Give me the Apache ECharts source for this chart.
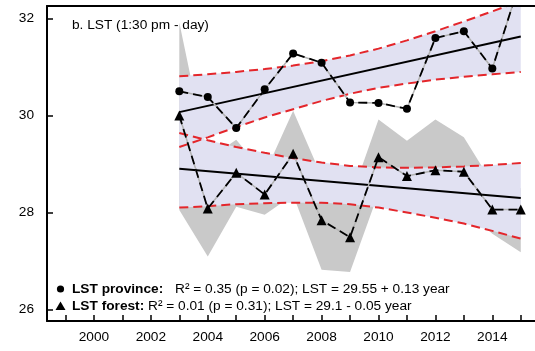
<!DOCTYPE html>
<html>
<head>
<meta charset="utf-8">
<script src="https://cdn.jsdelivr.net/npm/echarts@6.0.0/dist/echarts.min.js"></script>
<style>
  html, body { margin: 0; padding: 0; background: #fff; }
  #chart { width: 535px; height: 351px; }
</style>
</head>
<body>
<div id="chart"></div>
<script>
// Years of observation
const years = [2003, 2004, 2005, 2006, 2007, 2008, 2009, 2010, 2011, 2012, 2013, 2014, 2015];

// Daytime LST (°C) at 1:30 pm
const lstProvince = [30.50, 30.38, 29.74, 30.54, 31.28, 31.09, 30.27, 30.26, 30.14, 31.60, 31.74, 30.97, 32.80];
const lstForest   = [30.00, 28.08, 28.82, 28.37, 29.21, 27.84, 27.49, 29.14, 28.75, 28.87, 28.84, 28.06, 28.06];

// Confidence bands of the two linear fits
const provinceBandUpper = [30.81, 30.85, 30.90, 30.96, 31.03, 31.12, 31.24, 31.38, 31.55, 31.74, 31.94, 32.15, 32.36];
const provinceBandLower = [29.35, 29.55, 29.76, 29.96, 30.13, 30.30, 30.45, 30.57, 30.66, 30.74, 30.80, 30.85, 30.90];
const forestBandUpper   = [29.64, 29.49, 29.35, 29.23, 29.12, 29.03, 28.96, 28.93, 28.92, 28.93, 28.95, 28.98, 29.02];
const forestBandLower   = [28.10, 28.13, 28.17, 28.19, 28.20, 28.20, 28.17, 28.10, 28.00, 27.89, 27.77, 27.62, 27.46];

// Spread of forest LST (grey envelope)
const forestRangeUpper = [31.92, 29.10, 29.50, 28.80, 30.10, 28.74, 28.25, 29.92, 29.48, 29.92, 29.55, 28.60, 28.50];
const forestRangeLower = [28.05, 27.09, 28.12, 27.95, 28.36, 26.82, 26.77, 28.40, 28.40, 28.30, 28.10, 27.56, 27.18];

// Fitted trends: LST = intercept + slope * (year - fitBaseYear)
const provinceFit = [29.55, 0.13];
const forestFit   = [29.10, -0.05];
const fitBaseYear = 1999;

// Axis ticks and labels
const xTickYears  = [1999, 2000, 2001, 2002, 2003, 2004, 2005, 2006, 2007, 2008, 2009, 2010, 2011, 2012, 2013, 2014, 2015];
const xLabelYears = [2000, 2002, 2004, 2006, 2008, 2010, 2012, 2014];
const yTicks      = [26, 28, 30, 32];

const FONT = '"Liberation Sans", Arial, Helvetica, sans-serif';
const LAVENDER = '#e1e1f2';
const GREY = '#c9c9c9';
const RED = '#e4262b';

function pairs(values) {
  return years.map((y, i) => [y, values[i]]);
}

function fitLine(fit) {
  const ends = [years[0], years[years.length - 1]];
  return ends.map(y => [y, fit[0] + fit[1] * (y - fitBaseYear)]);
}

// Filled area between two curves, drawn as a single polygon clipped to the plot
function areaSeries(upper, lower, color) {
  return {
    type: 'custom',
    silent: true,
    data: years.map((y, i) => [y, upper[i], lower[i]]),
    encode: { x: 0, y: [1, 2] },
    renderItem: function (params, api) {
      if (params.dataIndex !== 0) return null;
      const pts = [];
      for (let i = 0; i < years.length; i++) pts.push(api.coord([years[i], upper[i]]));
      for (let i = years.length - 1; i >= 0; i--) pts.push(api.coord([years[i], lower[i]]));
      const cs = params.coordSys;
      return {
        type: 'polygon',
        shape: { points: pts },
        style: { fill: color },
        clipPath: { type: 'rect', shape: { x: cs.x, y: cs.y, width: cs.width, height: cs.height } }
      };
    }
  };
}

function dashedRed(values) {
  return {
    type: 'line', data: pairs(values), symbol: 'none', silent: true,
    lineStyle: { color: RED, width: 2, type: [9, 5] }
  };
}

function trend(fit) {
  return {
    type: 'line', data: fitLine(fit), symbol: 'none', silent: true,
    lineStyle: { color: '#000', width: 2 }
  };
}

function underlay(values) {
  return {
    type: 'line', data: pairs(values), symbol: 'none', silent: true,
    lineStyle: { color: '#b3b3b3', width: 1.5 }
  };
}

function observed(values, symbol, size) {
  return {
    type: 'line', data: pairs(values), silent: true,
    symbol: symbol, symbolSize: size, showAllSymbol: true,
    itemStyle: { color: '#000' },
    lineStyle: { color: '#000', width: 1.8, type: [9, 5] }
  };
}

const chart = echarts.init(document.getElementById('chart'), null, { renderer: 'canvas' });

const axisLineStyle = { color: '#000', width: 2 };
const tickStyle = { color: '#000', width: 1.5 };

chart.setOption({
  animation: false,
  backgroundColor: '#fff',
  grid: { left: 47, top: 6, right: -5.5, bottom: 30 },
  xAxis: [
    {
      type: 'value', min: 1998.35, max: 2015.5, z: 10,
      axisLine: { show: true, onZero: false, lineStyle: axisLineStyle },
      axisTick: { show: true, inside: true, length: 6, lineStyle: tickStyle, customValues: xTickYears },
      axisLabel: {
        customValues: xLabelYears, color: '#000', fontSize: 13.7, fontFamily: FONT, margin: 9,
        formatter: v => String(v)
      },
      splitLine: { show: false }
    },
    {
      type: 'value', position: 'top', min: 1998.35, max: 2015.5, z: 10,
      axisLine: { show: true, onZero: false, lineStyle: axisLineStyle },
      axisTick: { show: false }, axisLabel: { show: false }, splitLine: { show: false }
    }
  ],
  yAxis: {
    type: 'value', min: 25.76, max: 32.26, z: 10,
    axisLine: { show: true, onZero: false, lineStyle: axisLineStyle },
    axisTick: { show: true, inside: true, length: 6, lineStyle: tickStyle, customValues: yTicks },
    axisLabel: {
      customValues: yTicks, color: '#000', fontSize: 13.7, fontFamily: FONT, margin: 13,
      formatter: v => String(v)
    },
    splitLine: { show: false }
  },
  series: [
    areaSeries(forestRangeUpper, forestRangeLower, GREY),
    areaSeries(provinceBandUpper, provinceBandLower, LAVENDER),
    areaSeries(forestBandUpper, forestBandLower, LAVENDER),
    dashedRed(provinceBandUpper),
    dashedRed(provinceBandLower),
    dashedRed(forestBandUpper),
    dashedRed(forestBandLower),
    trend(provinceFit),
    trend(forestFit),
    underlay(lstProvince),
    underlay(lstForest),
    observed(lstProvince, 'circle', 8),
    observed(lstForest, 'triangle', [10, 10])
  ],
  graphic: [
    { type: 'text', x: 72, y: 25, style: { text: 'b. LST (1:30 pm - day)', fill: '#000', font: '13.7px ' + FONT, verticalAlign: 'middle' } },

    { type: 'circle', shape: { cx: 60.5, cy: 289, r: 3.6 }, style: { fill: '#000' } },
    { type: 'text', x: 72, y: 289, style: { text: 'LST province:', fill: '#000', font: 'bold 13.7px ' + FONT, verticalAlign: 'middle' } },
    { type: 'text', x: 175, y: 289, style: { text: 'R\u00B2 = 0.35 (p = 0.02); LST = 29.55 + 0.13 year', fill: '#000', font: '13.7px ' + FONT, verticalAlign: 'middle' } },

    { type: 'polygon', shape: { points: [[60.5, 301.5], [65.5, 310], [55.5, 310]] }, style: { fill: '#000' } },
    { type: 'text', x: 72, y: 306.5, style: { text: 'LST forest:', fill: '#000', font: 'bold 13.7px ' + FONT, verticalAlign: 'middle' } },
    { type: 'text', x: 148, y: 306.5, style: { text: 'R\u00B2 = 0.01 (p = 0.31); LST = 29.1 - 0.05 year', fill: '#000', font: '13.7px ' + FONT, verticalAlign: 'middle' } }
  ]
});
</script>
</body>
</html>
